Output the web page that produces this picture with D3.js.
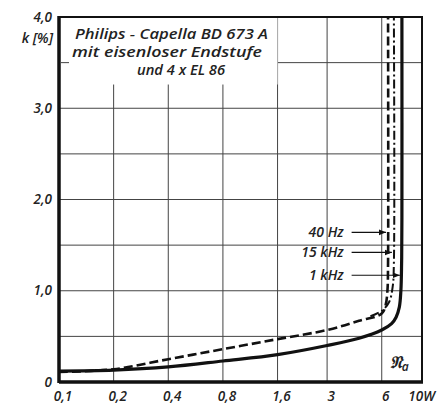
<!DOCTYPE html>
<meta charset="utf-8">
<head>
<style>
  body { margin: 0; background: #fff; }
  svg { display: block; }
  text { font-family: 'Open Sans', 'Noto Sans', Arial, sans-serif; font-style: italic; font-weight: 600; fill: #222; }
</style>
</head>
<body>
<svg id="chart" width="437" height="406"></svg>
<script src="https://d3js.org/d3.v7.min.js"></script>
<script>

// output power in W (log axis) vs distortion k in %
var xTicks = [0.1, 0.2, 0.4, 0.8, 1.6, 3, 6, 10];
var xTickLabels = ["0,1", "0,2", "0,4", "0,8", "1,6", "3", "6", "10W"];
var yTicks = [0, 1, 2, 3, 4];
var yTickLabels = ["0", "1,0", "2,0", "3,0", "4,0"];
var yGrid = [0.5, 1, 1.5, 2, 2.5, 3, 3.5];

var curve1kHz = [[0.1, 0.12], [0.2, 0.13], [0.4, 0.165], [0.8, 0.23], [1.6, 0.3], [3, 0.4],
                 [4.5, 0.48], [6, 0.57], [6.8, 0.64], [7.2, 0.71], [7.5, 0.82], [7.65, 1.0],
                 [7.72, 1.3], [7.75, 1.8], [7.75, 4.0]];
var curve40Hz = [[0.1, 0.11], [0.2, 0.14], [0.4, 0.25], [0.8, 0.36], [1.6, 0.47], [3, 0.57],
                 [4.5, 0.67], [6, 0.75], [6.3, 0.84], [6.45, 1.0], [6.5, 1.3], [6.5, 4.0]];
var curve15kHz = [[5.2, 0.72], [6, 0.78], [6.6, 0.88], [6.9, 1.05], [7.0, 1.3], [7.0, 4.0]];

var labels = ["40 Hz", "15 kHz", "1 kHz"];
var labelK = [1.64, 1.42, 1.17];
var labelW = [6.5, 7.0, 7.75];

var titleLines = ["Philips - Capella  BD 673 A", "mit eisenloser Endstufe", "und  4 x EL 86"];

var margin = {top: 17, right: 15, bottom: 24, left: 59},
    width = 437 - margin.left - margin.right,
    height = 406 - margin.top - margin.bottom;

var x = d3.scaleLog().domain([0.1, 10]).range([0, width]);
var y = d3.scaleLinear().domain([0, 4]).range([height, 0]);

var svg = d3.select("#chart").append("g")
    .attr("transform", "translate(" + margin.left + "," + margin.top + ")");

// grid
svg.selectAll(".vgrid").data(xTicks.slice(1, -1)).enter().append("line")
    .attr("x1", function(d) { return x(d); }).attr("x2", function(d) { return x(d); })
    .attr("y1", 0).attr("y2", height)
    .style("stroke", "#444").style("stroke-width", 1);
svg.selectAll(".hgrid").data(yGrid).enter().append("line")
    .attr("x1", 0).attr("x2", width)
    .attr("y1", function(d) { return y(d); }).attr("y2", function(d) { return y(d); })
    .style("stroke", "#444").style("stroke-width", 1);

// title box clears the grid
svg.append("rect")
    .attr("x", 0).attr("y", 0)
    .attr("width", x(1.6)).attr("height", y(3.26))
    .style("fill", "#fff");

svg.append("line")
    .attr("x1", 2).attr("x2", 10).attr("y1", y(3.5)).attr("y2", y(3.5))
    .style("stroke", "#444");

svg.append("g").selectAll("text").data(titleLines).enter().append("text")
    .attr("x", function(d, i) { return [16, 13, 78][i]; })
    .attr("y", function(d, i) { return 22 + i * 18; })
    .attr("textLength", function(d, i) { return [193, 190, 88][i]; })
    .attr("lengthAdjust", "spacingAndGlyphs")
    .style("font-size", "14.5px")
    .text(function(d) { return d; });

// frame
svg.append("rect")
    .attr("width", width).attr("height", height)
    .style("fill", "none").style("stroke", "#111").style("stroke-width", 2);
svg.append("line").attr("x1", 0).attr("x2", 0).attr("y1", -1).attr("y2", height + 1)
    .style("stroke", "#111").style("stroke-width", 3.5);
svg.append("line").attr("x1", 0).attr("x2", width + 1).attr("y1", height).attr("y2", height)
    .style("stroke", "#111").style("stroke-width", 3.5);

var lineX = d3.line()
    .x(function(d) { return x(d[0]); })
    .y(function(d) { return y(d[1]); })
    .curve(d3.curveCatmullRom);

svg.append("path").datum(curve15kHz).attr("d", lineX)
    .style("fill", "none").style("stroke", "#111").style("stroke-width", 2)
    .style("stroke-dasharray", "9,3,2,3");
svg.append("path").datum(curve40Hz).attr("d", lineX)
    .style("fill", "none").style("stroke", "#111").style("stroke-width", 2.6)
    .style("stroke-dasharray", "9,4");
svg.append("path").datum(curve1kHz).attr("d", lineX)
    .style("fill", "none").style("stroke", "#111").style("stroke-width", 3.2);

// annotations with arrows
svg.append("defs").append("marker")
    .attr("id", "arr").attr("viewBox", "0 0 10 10")
    .attr("refX", 10).attr("refY", 5)
    .attr("markerWidth", 6).attr("markerHeight", 6)
    .attr("orient", "auto")
  .append("path").attr("d", "M0,1L10,5L0,9z").style("fill", "#111");

labels.forEach(function(l, i) {
  svg.append("text")
      .attr("x", x(3.3) + 9).attr("y", y(labelK[i]))
      .attr("dy", "0.35em")
      .style("text-anchor", "end")
      .style("font-size", "14px")
      .text(l);
  svg.append("line")
      .attr("x1", x(3.3) + 17).attr("x2", x(labelW[i]) - 2)
      .attr("y1", y(labelK[i])).attr("y2", y(labelK[i]))
      .style("stroke", "#111").style("stroke-width", 1.2)
      .attr("marker-end", "url(#arr)");
});

// P_a label
var pa = svg.append("text")
    .attr("x", x(6) + 8).attr("y", y(0.15))
    .style("font-size", "17px")
    .text("\u{1D511}");
pa.append("tspan").attr("dy", 3).style("font-size", "12px").text("a");

// axis labels
svg.selectAll(".xl").data(xTicks).enter().append("text")
    .attr("x", function(d, i) { return i === xTicks.length - 1 ? width + 13 : x(d) + 4; })
    .attr("y", height + 19)
    .style("text-anchor", function(d, i) { return i === xTicks.length - 1 ? "end" : "middle"; })
    .style("font-size", "13.5px")
    .text(function(d, i) { return xTickLabels[i]; });

svg.selectAll(".yl").data(yTicks).enter().append("text")
    .attr("x", -7)
    .attr("y", function(d) { return y(d); })
    .attr("dy", "0.35em")
    .style("text-anchor", "end")
    .style("font-size", "13.5px")
    .text(function(d, i) { return yTickLabels[i]; });

svg.append("text")
    .attr("x", -6).attr("y", 26)
    .style("text-anchor", "end")
    .style("font-size", "14px")
    .text("k [%]");

</script>
</body>
